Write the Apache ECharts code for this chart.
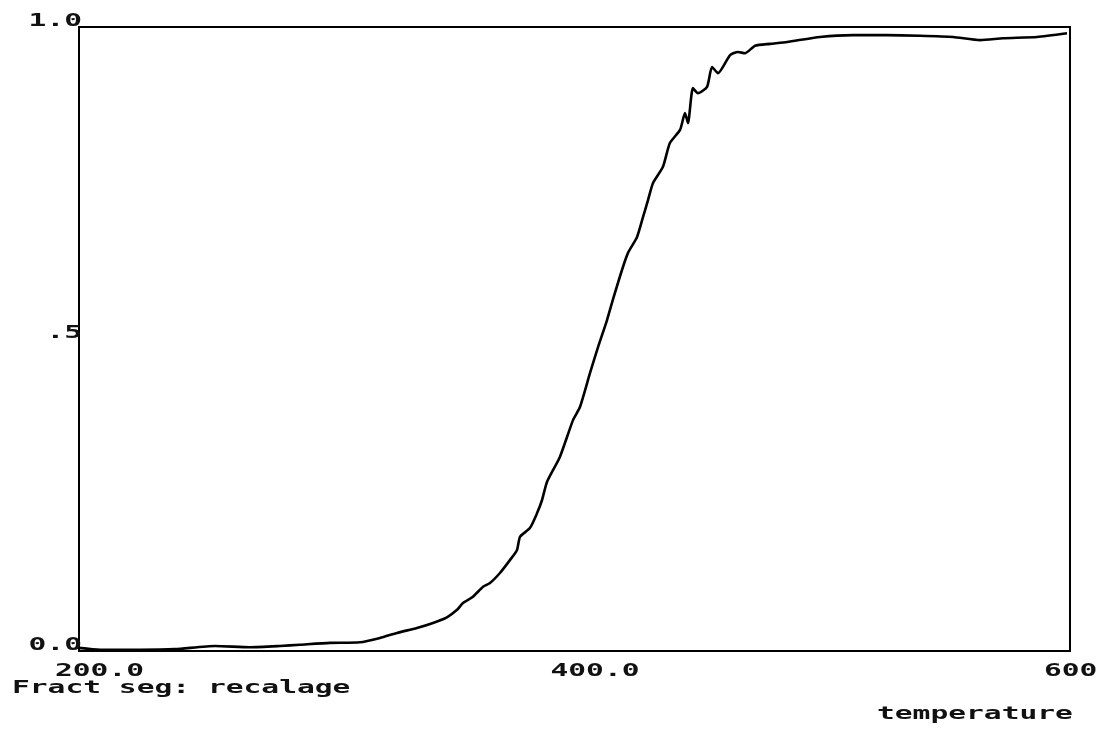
<!DOCTYPE html>
<html>
<head>
<meta charset="utf-8">
<script src="https://cdn.jsdelivr.net/npm/echarts@6/dist/echarts.min.js"></script>
<style>
  html, body { margin: 0; padding: 0; background: #fff; }
  #chart { width: 1114px; height: 731px; }
</style>
</head>
<body>
<div id="chart"></div>
<script>
// Segregated fraction versus temperature (recalage run)
const temperature = [
  200.0, 208.5, 224.6, 238.7, 254.9, 269.0, 281.1, 289.2, 301.3, 313.4,
  321.5, 328.4, 336.4, 342.9, 348.5, 352.6, 355.0, 359.0, 363.1, 365.9,
  369.9, 374.0, 376.8, 378.0, 382.0, 384.9, 386.9, 388.9, 394.1, 399.4,
  402.2, 406.3, 409.5, 413.1, 415.5, 419.2, 421.6, 425.2, 427.7, 429.7,
  431.7, 435.7, 438.5, 442.6, 444.6, 445.8, 447.8, 449.8, 453.5, 455.5,
  457.9, 462.8, 466.0, 468.8, 472.9, 478.9, 485.8, 499.1, 512.4, 526.1,
  539.5, 552.8, 563.7, 573.0, 586.7, 598.8
];
const fraction = [
  0.005, 0.002, 0.002, 0.003, 0.008, 0.006, 0.008, 0.010, 0.013, 0.014,
  0.021, 0.029, 0.037, 0.045, 0.054, 0.066, 0.077, 0.087, 0.103, 0.109,
  0.125, 0.146, 0.162, 0.183, 0.197, 0.221, 0.242, 0.271, 0.311, 0.370,
  0.391, 0.446, 0.487, 0.530, 0.563, 0.611, 0.638, 0.663, 0.696, 0.723,
  0.750, 0.776, 0.814, 0.835, 0.862, 0.846, 0.902, 0.894, 0.904, 0.936,
  0.926, 0.955, 0.960, 0.958, 0.970, 0.973, 0.976, 0.984, 0.987, 0.987,
  0.986, 0.984, 0.979, 0.982, 0.984, 0.990
];
const xTicks = [200, 400, 600];
const xTickLabels = ['200.0', '400.0', '600'];
const yTicks = [0, 0.5, 1];
const yTickLabels = ['0.0', '.5', '1.0'];
const seriesTitle = 'Fract seg: recalage';
const xAxisTitle = 'temperature';

const chart = echarts.init(document.getElementById('chart'), null, { renderer: 'canvas' });

const hidden = { show: false };
chart.setOption({
  animation: false,
  backgroundColor: '#fff',
  grid: {
    left: 79, right: 44, top: 27, bottom: 80,
    show: true, borderColor: '#000', borderWidth: 2, backgroundColor: 'transparent'
  },
  xAxis: {
    type: 'value', min: 200, max: 600, interval: 200,
    axisLine: hidden, axisTick: hidden, axisLabel: hidden, splitLine: hidden
  },
  yAxis: {
    type: 'value', min: 0, max: 1, interval: 0.5,
    axisLine: hidden, axisTick: hidden, axisLabel: hidden, splitLine: hidden
  },
  series: [{
    type: 'line',
    name: seriesTitle,
    data: temperature.map((t, i) => [t, fraction[i]]),
    showSymbol: false,
    smooth: 0.2,
    lineStyle: { color: '#000', width: 2.6 },
    z: 3
  }]
});

// Plotter-style lettering: narrow mono font stretched horizontally
const FONT = { fontFamily: 'DejaVu Sans Mono', fontSize: 17, fontWeight: 'bold', fill: '#111' };
const STRETCH = 1.74;
function label(text, x, y, align) {
  return {
    type: 'text', x: x, y: y, scaleX: STRETCH, z: 10,
    style: Object.assign({ text: text, textAlign: align || 'left', textVerticalAlign: 'middle' }, FONT)
  };
}

const graphics = [];
const xOffsets = [-24, -24, -26];
xTicks.forEach((v, i) => {
  const p = chart.convertToPixel({ gridIndex: 0 }, [v, 0]);
  graphics.push(label(xTickLabels[i], p[0] + xOffsets[i], p[1] + 21));
});
yTicks.forEach((v, i) => {
  const p = chart.convertToPixel({ gridIndex: 0 }, [200, v]);
  graphics.push(label(yTickLabels[i], p[0] + 3, p[1] - 5, 'right'));
});
const origin = chart.convertToPixel({ gridIndex: 0 }, [200, 0]);
const far = chart.convertToPixel({ gridIndex: 0 }, [600, 0]);
graphics.push(label(seriesTitle, origin[0] - 67, origin[1] + 38));
graphics.push(label(xAxisTitle, far[0] - 193, far[1] + 64));

chart.setOption({ graphic: graphics });
</script>
</body>
</html>
